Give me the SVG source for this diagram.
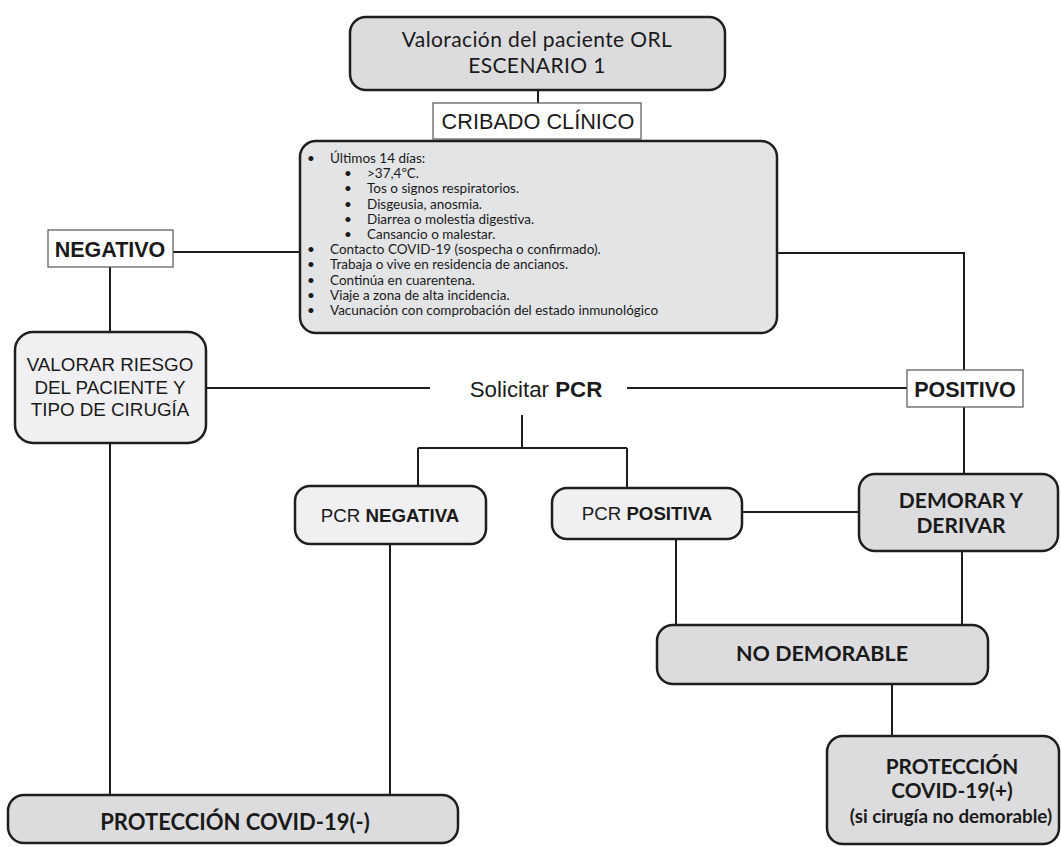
<svg xmlns="http://www.w3.org/2000/svg" width="1061" height="847" viewBox="0 0 1061 847">
<style>
.dark{fill:#dcdcde;stroke:#1e1e1e;stroke-width:2.5}
.light{fill:#f0f0f2;stroke:#1e1e1e;stroke-width:2.5}
.mid{fill:#e3e4e6;stroke:#1e1e1e;stroke-width:2.5}
.label{fill:#ffffff;stroke:#555;stroke-width:1.2}
.op{font-family:Lato,"Open Sans","DejaVu Sans",sans-serif;fill:#1a1a1a}
.hv{font-family:"Liberation Sans",Arial,sans-serif;fill:#1a1a1a}
.b{font-weight:bold}
.conn{fill:none;stroke:#1e1e1e;stroke-width:2}
</style>
<g id="connectors">
<path class="conn" d="M538,90 V104"/>
<path class="conn" d="M173,252 H300"/>
<path class="conn" d="M110,267 V332"/>
<path class="conn" d="M777,253 H964 V370"/>
<path class="conn" d="M964,407 V474"/>
<path class="conn" d="M206,388 H430"/>
<path class="conn" d="M627,388 H907"/>
<path class="conn" d="M522,415 V448 M418,448 H627 M418,448 V486 M627,448 V488"/>
<path class="conn" d="M110,443 V795"/>
<path class="conn" d="M390,544 V795"/>
<path class="conn" d="M742,512 H859"/>
<path class="conn" d="M676,539 V625"/>
<path class="conn" d="M962,551 V625"/>
<path class="conn" d="M892,684 V736"/>
</g>
<g id="n-valoracion">
<rect class="dark" x="350" y="17" width="375" height="73" rx="16"/>
<text class="op" font-size="21" letter-spacing="0.4" text-anchor="middle"><tspan x="537" y="47">Valoración del paciente ORL</tspan><tspan x="537" y="73">ESCENARIO 1</tspan></text>
</g>
<g id="n-cribado">
<rect class="label" x="433" y="103" width="208" height="36"/>
<text class="hv" x="538" y="129" font-size="21.7" text-anchor="middle">CRIBADO CLÍNICO</text>
</g>
<g id="n-criterios">
<rect class="mid" x="300" y="141" width="477" height="192" rx="16"/>
<text class="op" font-size="13.5" fill="#262626"><tspan x="307" y="163">•</tspan><tspan x="330" y="163">Últimos 14 días:</tspan><tspan x="344" y="178.2">•</tspan><tspan x="367" y="178.2">&gt;37,4ºC.</tspan><tspan x="344" y="193.4">•</tspan><tspan x="367" y="193.4">Tos o signos respiratorios.</tspan><tspan x="344" y="208.6">•</tspan><tspan x="367" y="208.6">Disgeusia, anosmia.</tspan><tspan x="344" y="223.8">•</tspan><tspan x="367" y="223.8">Diarrea o molestia digestiva.</tspan><tspan x="344" y="239">•</tspan><tspan x="367" y="239">Cansancio o malestar.</tspan><tspan x="307" y="254.2">•</tspan><tspan x="330" y="254.2">Contacto COVID-19 (sospecha o confirmado).</tspan><tspan x="307" y="269.4">•</tspan><tspan x="330" y="269.4">Trabaja o vive en residencia de ancianos.</tspan><tspan x="307" y="284.6">•</tspan><tspan x="330" y="284.6">Continúa en cuarentena.</tspan><tspan x="307" y="299.8">•</tspan><tspan x="330" y="299.8">Viaje a zona de alta incidencia.</tspan><tspan x="307" y="315">•</tspan><tspan x="330" y="315">Vacunación con comprobación del estado inmunológico</tspan></text>
</g>
<g id="n-negativo">
<rect class="label" x="48" y="230" width="125" height="37"/>
<text class="hv b" x="110" y="256.5" font-size="21.5" text-anchor="middle">NEGATIVO</text>
</g>
<g id="n-positivo">
<rect class="label" x="907" y="370" width="116" height="37"/>
<text class="hv b" x="965" y="396.5" font-size="21.5" text-anchor="middle">POSITIVO</text>
</g>
<g id="n-valorar">
<rect class="light" x="15" y="332" width="191" height="111" rx="18"/>
<text class="hv" font-size="18.8" text-anchor="middle"><tspan x="110" y="371">VALORAR RIESGO</tspan><tspan x="110" y="394">DEL PACIENTE Y</tspan><tspan x="110" y="416">TIPO DE CIRUGÍA</tspan></text>
</g>
<g id="n-solicitar">
<text class="hv" x="536" y="397" font-size="22.3" text-anchor="middle">Solicitar <tspan class="b">PCR</tspan></text>
</g>
<g id="n-pcrneg">
<rect class="light" x="295" y="486" width="191" height="58" rx="15"/>
<text class="hv" x="390" y="521.5" font-size="18.7" text-anchor="middle">PCR <tspan class="b">NEGATIVA</tspan></text>
</g>
<g id="n-pcrpos">
<rect class="light" x="552" y="488" width="190" height="51" rx="15"/>
<text class="hv" x="647" y="519.5" font-size="18.7" text-anchor="middle">PCR <tspan class="b">POSITIVA</tspan></text>
</g>
<g id="n-demorar">
<rect class="dark" x="859" y="474" width="199" height="77" rx="16"/>
<text class="op b" font-size="21" text-anchor="middle"><tspan x="961" y="508">DEMORAR Y</tspan><tspan x="961" y="533">DERIVAR</tspan></text>
</g>
<g id="n-nodemorable">
<rect class="dark" x="657" y="625" width="331" height="59" rx="16"/>
<text class="op b" x="822" y="661" font-size="21.5" text-anchor="middle">NO DEMORABLE</text>
</g>
<g id="n-proteccion-pos">
<rect class="dark" x="827" y="736" width="232" height="108" rx="16"/>
<text class="op b" font-size="20.8" text-anchor="middle"><tspan x="952" y="774">PROTECCIÓN</tspan><tspan x="952" y="798">COVID-19(+)</tspan><tspan x="951" y="823" font-size="18.8">(si cirugía no demorable)</tspan></text>
</g>
<g id="n-proteccion-neg">
<rect class="dark" x="8" y="795" width="450" height="48" rx="16"/>
<text class="op b" x="235" y="830" font-size="22" text-anchor="middle">PROTECCIÓN COVID-19(-)</text>
</g>
</svg>
